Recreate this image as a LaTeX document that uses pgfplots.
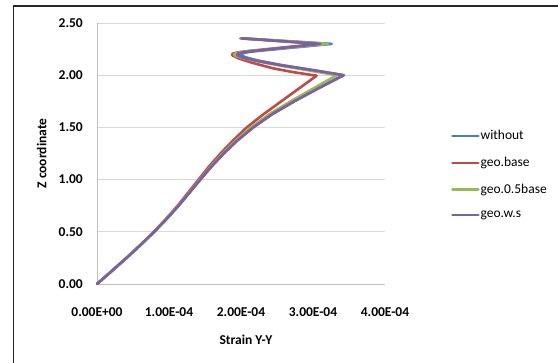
\documentclass[border=0pt]{standalone}
\usepackage{fontspec}
\setmainfont{Carlito}
\usepackage{pgfplots}
\pgfplotsset{compat=1.18}

\definecolor{sBlue}{HTML}{4A7EBB}
\definecolor{sRed}{HTML}{BE4B48}
\definecolor{sGreen}{HTML}{98B954}
\definecolor{sPurple}{HTML}{7D60A0}
\definecolor{gridgray}{HTML}{D9D9D9}
\definecolor{axisgray}{HTML}{BFBFBF}

\newcommand{\lblfont}{\fontsize{13.5}{16}\selectfont}

\begin{document}
\begin{tikzpicture}[x=1pt,y=1pt]
\path[use as bounding box] (-97,-79) rectangle (461,284);
\begin{axis}[
  at={(0,0)}, anchor=south west,
  scale only axis, width=288pt, height=261pt,
  xmin=0, xmax=4, ymin=0, ymax=2.5,
  axis lines*=left,
  axis line style={draw=axisgray, line width=0.9pt},
  major tick length=0pt,
  xtick={0,1,2,3,4},
  xticklabels={0.00E+00,1.00E-04,2.00E-04,3.00E-04,4.00E-04},
  ytick={0,0.5,1,1.5,2,2.5},
  yticklabels={0.00,0.50,1.00,1.50,2.00,2.50},
  ymajorgrids,
  grid style={draw=gridgray, line width=0.9pt},
  tick label style={font=\lblfont\bfseries, inner sep=0pt},
  xticklabel style={anchor=north, yshift=-23pt},
  yticklabel style={anchor=east, xshift=-14pt},
  xlabel={Strain Y-Y},
  ylabel={Z coordinate},
  every axis x label/.style={at={(axis description cs:0.517,-0.215)}, anchor=center, font=\lblfont\bfseries},
  every axis y label/.style={at={(axis description cs:-0.192,0.5)}, rotate=90, anchor=center, font=\lblfont\bfseries},
  legend style={at={(1.229,0.418)}, anchor=west, draw=none, fill=none,
    font=\lblfont, row sep=14pt, inner sep=0pt, nodes={inner sep=1pt}},
  legend cell align=left,
  legend image code/.code={\draw[#1, line width=2.5pt] (0pt,0pt) -- (26pt,0pt);},
  every axis plot/.append style={line width=2.6pt, line join=round, line cap=round},
  clip=false,
]
% strain values are in units of 1E-04
\addplot[sBlue] coordinates {
  (0,0) (0.207,0.125) (0.411,0.25) (0.608,0.375) (0.795,0.5) (0.970,0.625)
  (1.133,0.75) (1.285,0.875) (1.435,1.0) (1.590,1.125) (1.760,1.25) (1.950,1.375)
  (2.17,1.5) (2.43,1.625) (2.74,1.75) (3.07,1.875) (3.42,2.0)
  (3.03,2.045) (2.58,2.095) (2.24,2.14) (2.07,2.17) (2.00,2.19) (2.00,2.205)
  (2.07,2.218) (2.20,2.23) (3.26,2.30) (2.02,2.353)};
\addlegendentry{without}
\addplot[sRed] coordinates {
  (0,0) (0.205,0.125) (0.408,0.25) (0.603,0.375) (0.788,0.5) (0.960,0.625)
  (1.12,0.75) (1.265,0.875) (1.41,1.0) (1.555,1.125) (1.715,1.25) (1.89,1.375)
  (2.08,1.5) (2.31,1.625) (2.56,1.75) (2.81,1.875) (3.05,1.995)
  (2.72,2.03) (2.45,2.065) (2.15,2.12) (1.97,2.16) (1.88,2.19) (1.88,2.205)
  (1.95,2.218) (2.08,2.23) (3.08,2.30) (1.99,2.353)};
\addlegendentry{geo.base}
\addplot[sGreen] coordinates {
  (0,0) (0.207,0.125) (0.411,0.25) (0.607,0.375) (0.793,0.5) (0.967,0.625)
  (1.129,0.75) (1.28,0.875) (1.428,1.0) (1.58,1.125) (1.745,1.25) (1.93,1.375)
  (2.14,1.5) (2.39,1.625) (2.69,1.75) (3.01,1.875) (3.33,2.0)
  (2.95,2.045) (2.52,2.095) (2.17,2.14) (1.99,2.17) (1.91,2.19) (1.91,2.205)
  (1.98,2.218) (2.11,2.23) (3.21,2.30) (2.00,2.353)};
\addlegendentry{geo.0.5base}
\addplot[sPurple] coordinates {
  (0,0) (0.207,0.125) (0.411,0.25) (0.608,0.375) (0.795,0.5) (0.970,0.625)
  (1.133,0.75) (1.285,0.875) (1.435,1.0) (1.590,1.125) (1.760,1.25) (1.950,1.375)
  (2.17,1.5) (2.43,1.625) (2.74,1.75) (3.08,1.875) (3.43,2.0)
  (3.03,2.045) (2.56,2.095) (2.20,2.14) (2.02,2.17) (1.95,2.19) (1.95,2.205)
  (2.02,2.218) (2.15,2.23) (3.10,2.30) (2.01,2.353)};
\addlegendentry{geo.w.s}
\end{axis}
\draw[line width=1.6pt, black!85] (-83.5,-82) -- (-83.5,278) -- (464,278);
\end{tikzpicture}
\end{document}
